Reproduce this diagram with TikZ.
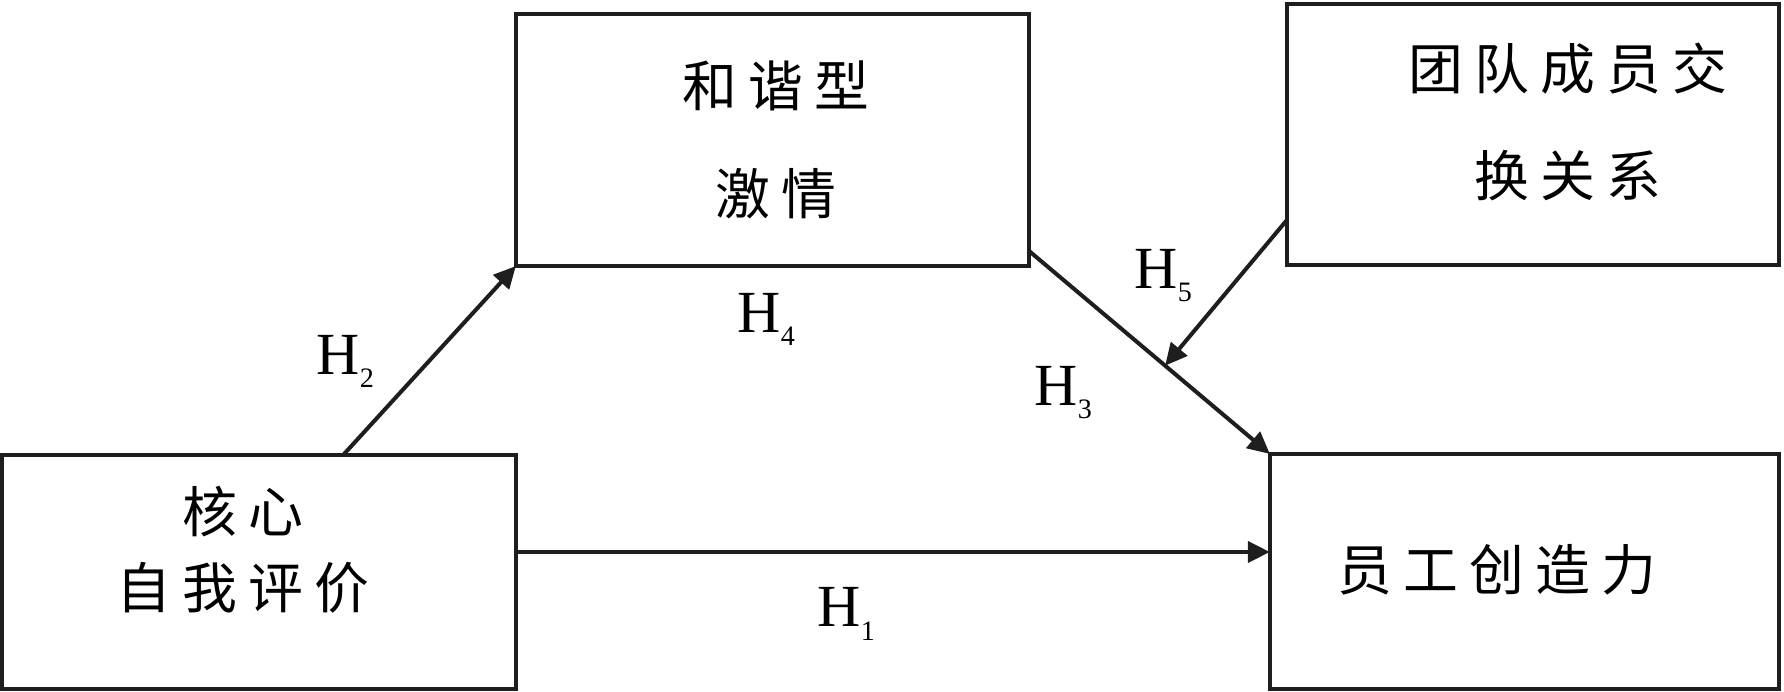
\documentclass[tikz,border=0pt]{standalone}
\usepackage{fontspec}
\setmainfont{Liberation Serif}
\newfontfamily\cjk[LetterSpace=20]{Noto Sans CJK SC}
\usetikzlibrary{arrows.meta}
\usetikzlibrary{calc}

\definecolor{ink}{HTML}{1E1E1E}
% hypothesis label: H with a small lowered index
\newcommand{\hyp}[1]{H\raisebox{-3.7pt}{\fontsize{8}{8}\selectfont #1}}

\begin{document}
\begin{tikzpicture}[x=0.01cm, y=-0.01cm,
	box/.style={draw=ink, line width=1.28pt, inner sep=0pt, outer sep=0pt},
	txt/.style={align=center, inner sep=0pt, font=\cjk\fontsize{15.6}{21.6}\selectfont},
	hlab/.style={anchor=base west, inner sep=0pt, font=\fontsize{17}{17}\selectfont},
	link/.style={draw=ink, line width=1.14pt, -{Triangle[length=0.22cm,width=0.21cm]}}]

	% page size in pixels of the original
	\useasboundingbox (0,0) rectangle (1784,692);

	% the four variables
	\node[box, minimum width=5.135cm, minimum height=2.34cm] (core) at (259,572) {};
	\node[box, minimum width=5.13cm, minimum height=2.52cm] (pass) at (772.5,140) {};
	\node[box, minimum width=4.92cm, minimum height=2.61cm] (team) at (1533,134.5) {};
	\node[box, minimum width=5.09cm, minimum height=2.35cm] (create) at (1524.5,571.5) {};

	% texts sit a bit off the box centres
	\node[txt] (tcore) at (243,550) {核心\\自我评价};
	\node[txt] (tpass) at (776,140) {和谐型\\[9pt]激情};
	\node[txt] (tteam) at (1568,122) {团队成员交\\[9pt]换关系};
	\node[txt] (tcreate) at (1497,570) {员工创造力};

	% start and end points of the paths
	\coordinate (h1s) at ($(core.east)+(0,-20)$);
	\coordinate (h2s) at ($(core.north west)!0.664!(core.north east)$);
	\coordinate (h3s) at ($(pass.south east)+(0,-15)$);
	\coordinate (h5s) at ($(team.south west)+(0,-45)$);
	% moderator arrow ends on the H3 path
	\coordinate (h5e) at ($(h3s)!0.565!(create.north west)$);

	% paths
	\draw[link] (h1s) -- (h1s -| create.west);
	\draw[link] (h2s) -- (pass.south west);
	\draw[link] (h3s) -- (create.north west);
	\draw[link] (h5s) -- (h5e);

	% hypothesis labels
	\node[hlab] (lh1) at (817,627) {\hyp{1}};
	\node[hlab] (lh2) at (316,375) {\hyp{2}};
	\node[hlab] (lh3) at (1034,406) {\hyp{3}};
	\node[hlab] (lh4) at (737,333) {\hyp{4}};
	\node[hlab] (lh5) at (1134,289) {\hyp{5}};

\end{tikzpicture}
\end{document}
